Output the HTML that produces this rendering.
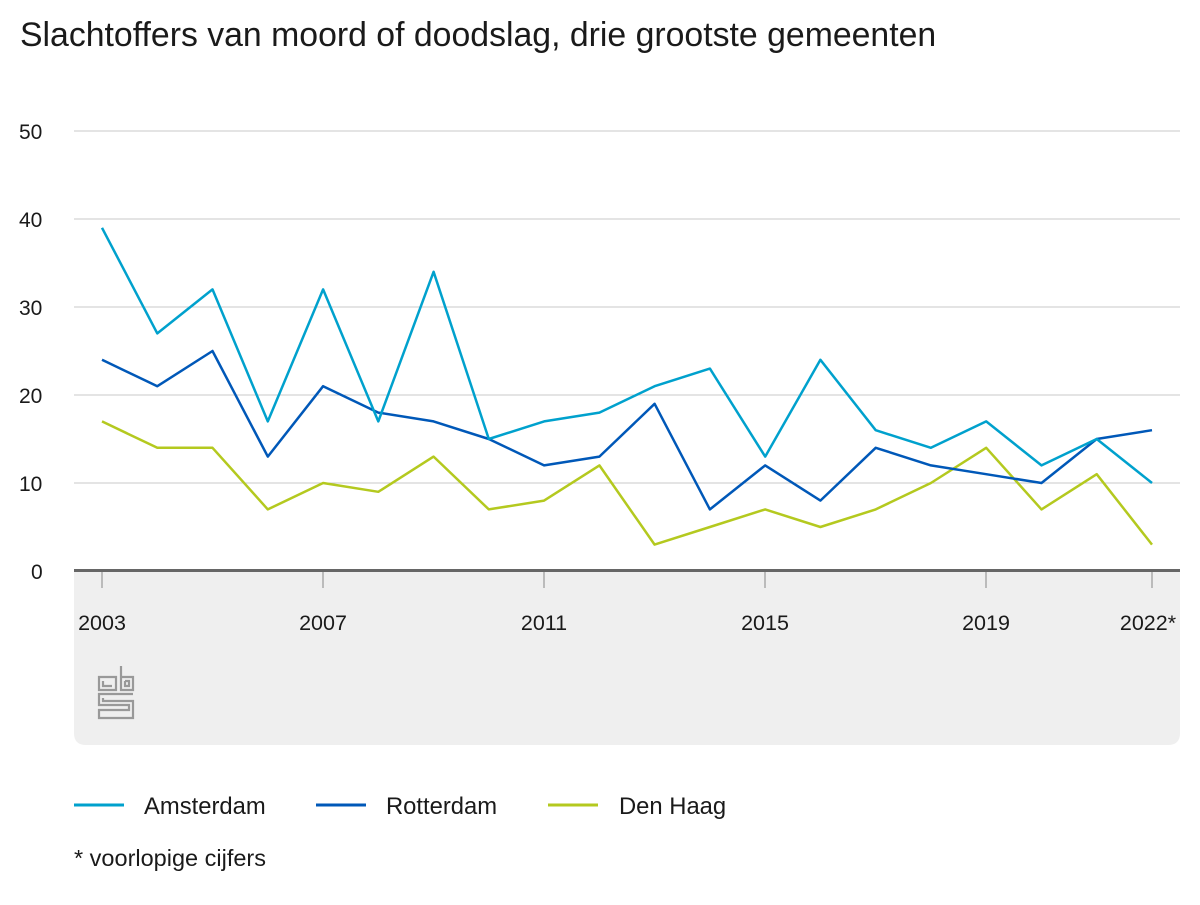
<!DOCTYPE html>
<html><head><meta charset="utf-8"><style>
body{margin:0;background:#fff;font-family:"Liberation Sans",Arial,sans-serif;}
</style></head><body>
<svg width="1200" height="900" xmlns="http://www.w3.org/2000/svg" font-family="Liberation Sans, Arial, sans-serif">
<text x="20" y="46" font-size="33.8" fill="#1a1a1a">Slachtoffers van moord of doodslag, drie grootste gemeenten</text>
<path d="M74 569 H1180 V733 Q1180 745 1168 745 H86 Q74 745 74 733 Z" fill="#efefef"/>
<g stroke="#c8c8c8" stroke-width="1">
<line x1="74" x2="1180" y1="131" y2="131"/><line x1="74" x2="1180" y1="219" y2="219"/>
<line x1="74" x2="1180" y1="307" y2="307"/><line x1="74" x2="1180" y1="395" y2="395"/>
<line x1="74" x2="1180" y1="483" y2="483"/>
</g>
<g stroke="#bbb" stroke-width="2">
<line x1="102" x2="102" y1="572" y2="588"/><line x1="323" x2="323" y1="572" y2="588"/>
<line x1="544" x2="544" y1="572" y2="588"/><line x1="765" x2="765" y1="572" y2="588"/>
<line x1="986" x2="986" y1="572" y2="588"/><line x1="1152" x2="1152" y1="572" y2="588"/>
</g>
<line x1="74" x2="1180" y1="570.5" y2="570.5" stroke="#666" stroke-width="3"/>
<g font-size="21" fill="#1a1a1a">
<text x="19" y="139">50</text><text x="19" y="227">40</text><text x="19" y="315">30</text>
<text x="19" y="403">20</text><text x="19" y="491">10</text><text x="31" y="579">0</text>
</g>
<g font-size="21.5" fill="#1a1a1a" text-anchor="middle">
<text x="102" y="630">2003</text><text x="323" y="630">2007</text><text x="544" y="630">2011</text>
<text x="765" y="630">2015</text><text x="986" y="630">2019</text><text x="1148" y="630">2022*</text>
</g>
<g fill="none" stroke-width="2.5" stroke-linejoin="round">
<polyline stroke="#b4c91f" points="102,421.4 157.3,447.8 212.5,447.8 267.8,509.4 323.1,483 378.3,491.8 433.6,456.6 488.8,509.4 544.1,500.6 599.4,465.4 654.6,544.6 709.9,527 765.2,509.4 820.4,527 875.7,509.4 930.9,483 986.2,447.8 1041.5,509.4 1096.7,474.2 1152,544.6"/>
<polyline stroke="#0058b8" points="102,359.8 157.3,386.2 212.5,351 267.8,456.6 323.1,386.2 378.3,412.6 433.6,421.4 488.8,439 544.1,465.4 599.4,456.6 654.6,403.8 709.9,509.4 765.2,465.4 820.4,500.6 875.7,447.8 930.9,465.4 986.2,474.2 1041.5,483 1096.7,439 1152,430.2"/>
<polyline stroke="#00a1cd" points="102,227.8 157.3,333.4 212.5,289.4 267.8,421.4 323.1,289.4 378.3,421.4 433.6,271.8 488.8,439 544.1,421.4 599.4,412.6 654.6,386.2 709.9,368.6 765.2,456.6 820.4,359.8 875.7,430.2 930.9,447.8 986.2,421.4 1041.5,465.4 1096.7,439 1152,483"/>
</g>
<g fill="none" stroke="#999" stroke-width="2.2">
<path d="M99 677 V690 H116 V677 Z M103 681 V686 H112"/>
<path d="M121 666 V690 H133 V677 H121 M125 681 H129 V686 H125 V681"/>
<path d="M133 694 H99 V705 H129 V710 H99 V718 H133 V701 H103 V698"/>
</g>
<g stroke-width="3">
<line x1="74" x2="124" y1="805" y2="805" stroke="#00a1cd"/>
<line x1="316" x2="366" y1="805" y2="805" stroke="#0058b8"/>
<line x1="548" x2="598" y1="805" y2="805" stroke="#b4c91f"/>
</g>
<g font-size="23.8" fill="#1a1a1a">
<text x="144" y="814">Amsterdam</text><text x="386" y="814">Rotterdam</text><text x="619" y="814">Den Haag</text>
<text x="74" y="866" font-size="23.5">* voorlopige cijfers</text>
</g>
</svg>
</body></html>
